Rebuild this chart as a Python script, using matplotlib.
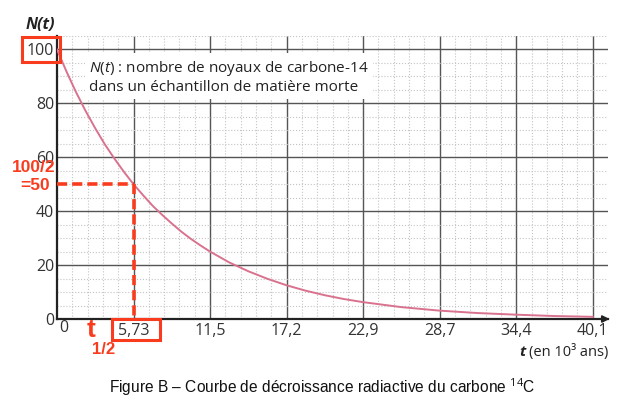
import matplotlib
matplotlib.use("Agg")
import matplotlib.pyplot as plt
from matplotlib.ticker import MultipleLocator
from matplotlib.patches import Rectangle

# Plot config
plt.rcParams["font.family"] = "Open Sans"
plt.rcParams["font.size"] = 11
plt.rcParams["mathtext.fontset"] = "custom"
plt.rcParams["mathtext.rm"] = "Open Sans"
plt.rcParams["mathtext.it"] = "Open Sans:italic"

# Data
t_values = [0, 0.72, 1.43, 2.15, 2.87, 3.58, 4.30, 5.01, 5.73, 6.45, 7.16, 7.88,
            8.60, 9.31, 10.03, 10.74, 11.46, 12.89, 14.33, 15.76, 17.19, 18.62,
            20.06, 21.49, 22.92, 25.79, 28.65, 31.52, 34.38, 37.25, 40.11]
n_values = [100, 91.7, 84.1, 77.1, 70.7, 64.8, 59.5, 54.6, 50, 45.9, 42.0, 38.6,
            35.4, 32.4, 29.7, 27.3, 25.0, 21.0, 17.7, 14.9, 12.5, 10.5,
            8.8, 7.4, 6.25, 4.4, 3.1, 2.2, 1.6, 1.1, 0.8]
x_ticks = [5.73, 11.46, 17.19, 22.92, 28.65, 34.38, 40.11]
x_labels = ["5,73", "11,5", "17,2", "22,9", "28,7", "34,4", "40,1"]
y_ticks = [0, 20, 40, 60, 80, 100]
half_life = 5.73
half_value = 50

curve_color = "#d9728f"
red = "#fa3c1e"

W, H = 637, 408
fig = plt.figure(figsize=(W / 100, H / 100), dpi=100)
ax = fig.add_axes([57 / W, (H - 319) / H, (608 - 57) / W, (319 - 36) / H])

ax.set_xlim(0, 41.25)
ax.set_ylim(0, 105)

ax.xaxis.set_minor_locator(MultipleLocator(5.73 / 5))
ax.yaxis.set_minor_locator(MultipleLocator(5))
ax.set_xticks(x_ticks)
ax.set_xticklabels(x_labels)
ax.set_yticks(y_ticks)
ax.grid(which="minor", color="#c4c4c4", linestyle=":", linewidth=0.8)
ax.grid(which="major", color="#555555", linewidth=1.0)
ax.set_axisbelow(True)
ax.tick_params(which="both", length=0, colors="#333333", labelsize=11.5)
ax.tick_params(axis="y", pad=2)
ax.tick_params(axis="x", pad=3)

for s in ["top", "right"]:
    ax.spines[s].set_visible(False)
for s in ["left", "bottom"]:
    ax.spines[s].set_linewidth(1.6)
    ax.spines[s].set_color("#222222")

ax.annotate("", xy=(1.008, 0), xycoords="axes fraction", xytext=(0.97, 0),
            arrowprops=dict(arrowstyle="-|>", color="#222222", lw=1.4,
                            mutation_scale=10), annotation_clip=False)

ax.plot(t_values, n_values, color=curve_color, linewidth=1.4, zorder=3)

# Half-life construction
ax.plot([0, half_life], [half_value, half_value], color=red, linewidth=2.6,
        linestyle=(0, (2.8, 1.4)), zorder=4, clip_on=False)
ax.plot([half_life, half_life], [half_value, 0], color=red, linewidth=2.6,
        linestyle=(0, (2.8, 1.4)), zorder=4, clip_on=False)

# Origin label on x axis
fig.text(64 / W, 1 - 328 / H, "0", ha="center", va="center", color="#333333", fontsize=11.5)

# Info box
fig.text(89 / W, 1 - 77 / H,
         "$N(t)$ : nombre de noyaux de carbone-14\ndans un échantillon de matière morte",
         ha="left", va="center", fontsize=11, color="#222222", linespacing=1.2,
         bbox=dict(facecolor="white", edgecolor="none", pad=3))

# Axis titles
fig.text(40 / W, 1 - 25 / H, "N(t)", ha="center", va="center", fontsize=11.5,
         style="italic", weight="bold", color="#222222")
fig.text(608 / W, 1 - 352 / H, "(en 10³ ans)", ha="right", va="center",
         fontsize=10.5, color="#222222")
fig.text(526 / W, 1 - 352 / H, "t", ha="right", va="center", fontsize=11,
         style="italic", weight="bold", color="#222222")

# Red annotations
fig.text(34 / W, 1 - 167 / H, "100/2", ha="center", va="center", fontsize=12.5,
         weight="bold", color=red, family="Liberation Sans")
fig.text(35 / W, 1 - 186 / H, "=50", ha="center", va="center", fontsize=12.5,
         weight="bold", color=red, family="Liberation Sans")
fig.text(91 / W, 1 - 330 / H, "t", ha="center", va="center", fontsize=19,
         weight="bold", color=red, family="Liberation Sans")
fig.text(104 / W, 1 - 350 / H, "1/2", ha="center", va="center", fontsize=12,
         weight="bold", color=red, family="Liberation Sans")

for x0, y0, x1, y1 in [(22, 37, 60, 62), (112, 319, 160, 340)]:
    fig.add_artist(Rectangle((x0 / W, 1 - y1 / H), (x1 - x0) / W, (y1 - y0) / H,
                             transform=fig.transFigure, fill=False,
                             edgecolor=red, linewidth=2.2))

# Caption
fig.text(322 / W, 1 - 387 / H,
         "Figure B – Courbe de décroissance radiactive du carbone $^{14}$C",
         ha="center", va="center", fontsize=11.2, family="Liberation Sans",
         color="#111111")

fig.savefig("out.png", dpi=100)
